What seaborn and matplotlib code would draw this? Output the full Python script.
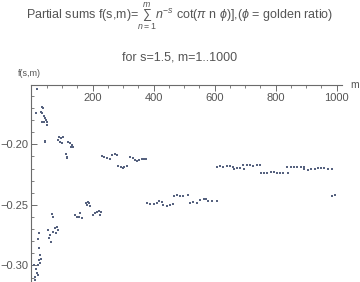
import matplotlib
matplotlib.use("Agg")
import matplotlib.pyplot as plt
import seaborn as sns
import pandas as pd
from matplotlib.ticker import MultipleLocator, FixedLocator

# read-off values (m, partial sum)
m_vals = [17, 14, 33, 37, 30, 35, 42, 44, 48, 50, 52, 36, 41, 43, 44,
          26, 22, 28, 25, 29, 20, 15, 17, 21, 12, 8, 10, 31, 24,
          68, 72, 55, 61, 58, 63, 71, 77, 83, 86, 80,
          91, 97, 88, 93, 102, 99, 121, 126, 132, 135, 129, 112, 117, 115,
          143, 148, 157, 165, 159, 179, 186, 183, 190, 192, 201, 208, 214, 222, 228, 225,
          230, 238, 247, 257, 263, 274, 281, 285, 293, 303, 312, 301,
          323, 332, 339, 347, 354, 361, 369, 376,
          378, 389, 400, 411, 419, 427, 432, 443, 454, 465,
          466, 476, 487, 498, 514, 520, 531, 542, 553, 564, 572, 580, 591, 607,
          608, 618, 629, 640, 651, 662, 664, 673, 684, 697,
          695, 706, 717, 727, 739, 750, 752, 763, 773, 785, 795, 804, 815, 826, 842,
          839, 850, 861, 872, 883, 894, 895, 906, 917, 928, 939, 950, 960, 971, 985,
          986, 996]
f_vals = [-0.154, -0.1744, -0.169, -0.1703, -0.1736, -0.1744, -0.1766, -0.178, -0.1799, -0.1818, -0.184, -0.1813, -0.1813, -0.197, -0.198,
          -0.2735, -0.2785, -0.2914, -0.2956, -0.2983, -0.2997, -0.3033, -0.306, -0.308, -0.3094, -0.300, -0.312, -0.2945, -0.2860,
          -0.2578, -0.2598, -0.2708, -0.2749, -0.2776, -0.2805, -0.2722, -0.2694, -0.2681, -0.2708, -0.2735,
          -0.1937, -0.195, -0.1964, -0.1979, -0.1937, -0.1992, -0.1979, -0.1992, -0.2006, -0.202, -0.202, -0.208, -0.2102, -0.2111,
          -0.2584, -0.2598, -0.2603, -0.2611, -0.257, -0.2483, -0.2474, -0.2502, -0.2488, -0.251, -0.2584, -0.257, -0.2557, -0.2551, -0.2562, -0.2584,
          -0.2097, -0.2107, -0.2116, -0.2124, -0.2088, -0.208, -0.2086, -0.2179, -0.219, -0.2185, -0.2179, -0.2198,
          -0.2107, -0.2116, -0.213, -0.2138, -0.213, -0.2124, -0.2121, -0.2124,
          -0.2487, -0.2493, -0.2493, -0.2482, -0.2468, -0.2474, -0.2502, -0.2507, -0.2502, -0.2493,
          -0.2425, -0.2419, -0.2427, -0.2425, -0.2419, -0.2482, -0.2479, -0.2482, -0.246, -0.2452, -0.2454, -0.2468, -0.2468, -0.2468,
          -0.2185, -0.2182, -0.2185, -0.2179, -0.2177, -0.2185, -0.2204, -0.2198, -0.2198, -0.2207,
          -0.2173, -0.2171, -0.2173, -0.2177, -0.2173, -0.2171, -0.2235, -0.224, -0.2237, -0.2229, -0.2226, -0.2235, -0.224, -0.2237, -0.2237,
          -0.2185, -0.2188, -0.219, -0.2188, -0.2185, -0.2188, -0.2207, -0.2212, -0.2207, -0.2202, -0.2196, -0.2198, -0.2198, -0.2202, -0.2202,
          -0.2425, -0.2419]

x_ticks = [200, 400, 600, 800, 1000]
y_ticks = [-0.30, -0.25, -0.20]
y_tick_labels = ["\u22120.30", "\u22120.25", "\u22120.20"]

df = pd.DataFrame({"m": m_vals, "f": f_vals})

sns.set_style("white")
plt.rcParams['font.family'] = ['Liberation Sans', 'DejaVu Sans']
plt.rcParams['mathtext.fontset'] = 'custom'
plt.rcParams['mathtext.rm'] = 'Liberation Sans'
plt.rcParams['mathtext.it'] = 'Liberation Sans:italic'

fig = plt.figure(figsize=(3.6, 2.82), dpi=100)
ax = fig.add_axes([31.5 / 360, 0.0, (342 - 31.5) / 360, 1 - 85 / 282])

sns.scatterplot(data=df, x="m", y="f", ax=ax, color="#56627f", s=4,
                marker="s", linewidth=0, legend=False)

ax.set_xlim(0, 1018)
ax.set_ylim(-0.3137, -0.151)
ax.set_xlabel("")
ax.set_ylabel("")

axis_col = "#6b6b6b"
for s in ["top", "right"]:
    ax.spines[s].set_visible(False)
ax.spines["bottom"].set_position(("data", -0.151))
ax.spines["bottom"].set_color(axis_col)
ax.spines["left"].set_color(axis_col)
ax.spines["bottom"].set_linewidth(0.8)
ax.spines["left"].set_linewidth(0.8)

ax.xaxis.set_major_locator(FixedLocator(x_ticks))
ax.xaxis.set_minor_locator(MultipleLocator(50))
ax.yaxis.set_major_locator(FixedLocator(y_ticks))
ax.set_yticklabels(y_tick_labels)
ax.yaxis.set_minor_locator(MultipleLocator(0.01))

ax.tick_params(axis="x", which="major", direction="out", length=4, width=0.7,
               color=axis_col, labelsize=8, labelcolor="#555555", pad=1.5,
               bottom=True)
ax.tick_params(axis="x", which="minor", direction="out", length=2.2, width=0.6,
               color=axis_col, bottom=True)
ax.tick_params(axis="y", which="major", direction="in", length=4, width=0.7,
               color=axis_col, labelsize=8, labelcolor="#555555", pad=2, left=True)
ax.tick_params(axis="y", which="minor", direction="in", length=2.2, width=0.6,
               color=axis_col, left=True)

fig.text(0.5, 1 - 17 / 282,
         r"Partial sums f(s,m)=$\sum_{n=1}^{m}$$n^{-s}$ cot($\pi$ n $\phi$)],($\phi$ = golden ratio)",
         ha="center", va="center", fontsize=9, color="#555555")
fig.text(0.5, 1 - 57 / 282, "for s=1.5, m=1..1000",
         ha="center", va="center", fontsize=9, color="#555555")
fig.text(18 / 360, 1 - 73 / 282, "f(s,m)", ha="left", va="center",
         fontsize=6.5, color="#555555")
fig.text(350 / 360, 1 - 85 / 282, "m", ha="left", va="center",
         fontsize=7.5, color="#555555")

fig.savefig("out.png", dpi=100)
